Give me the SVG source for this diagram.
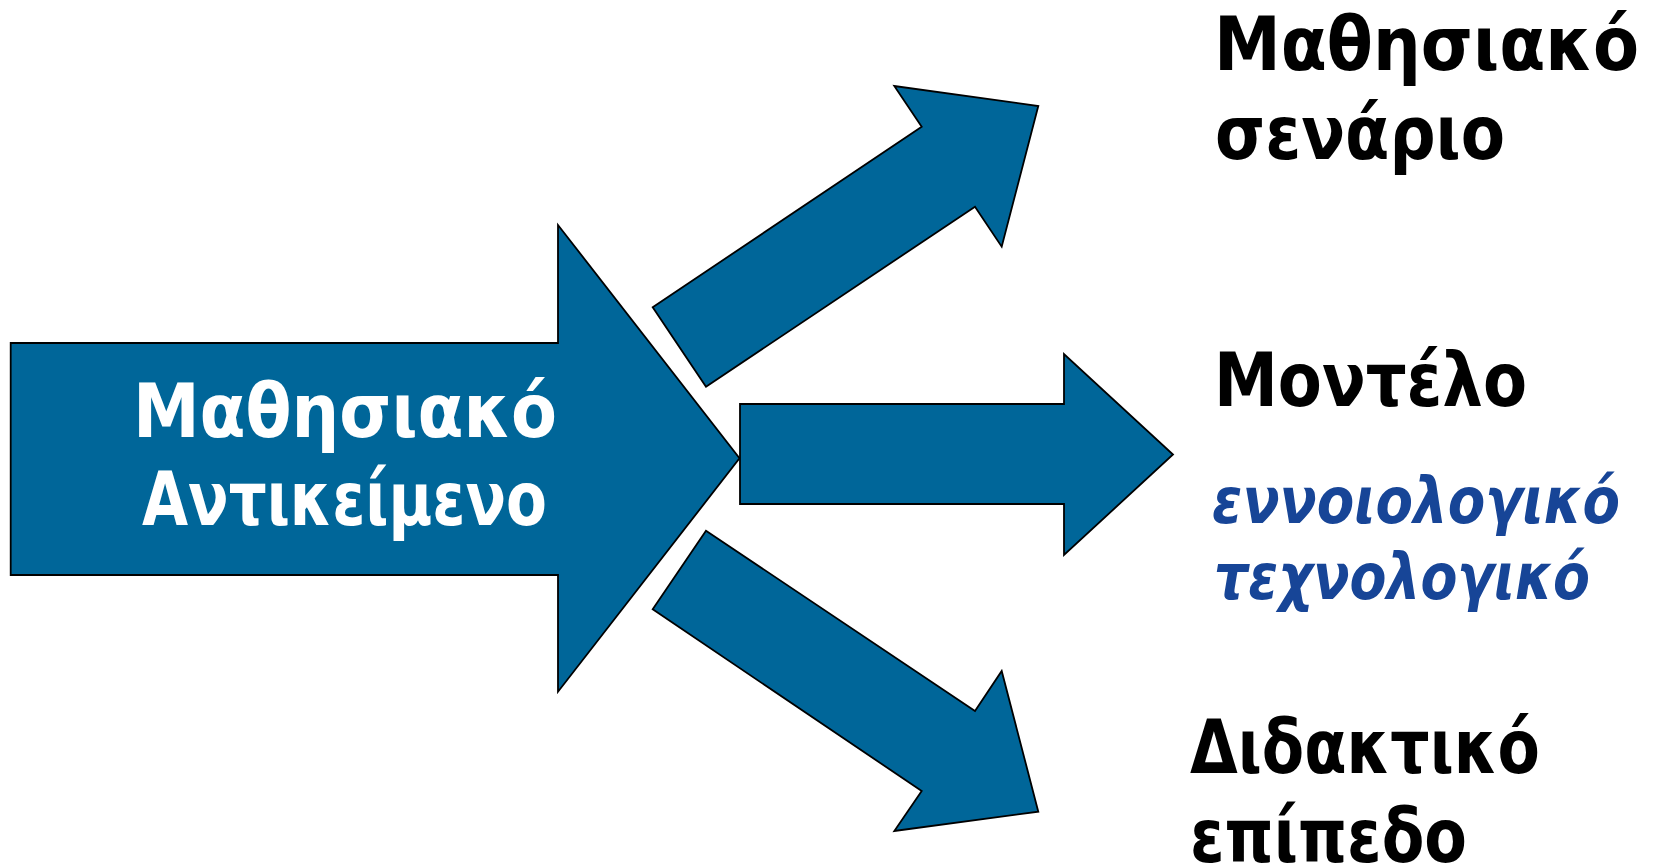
<svg xmlns="http://www.w3.org/2000/svg" width="1654" height="867" viewBox="0 0 1654 867">
<style>
.arrow{fill:#006699;stroke:#000;stroke-width:1.8;stroke-linejoin:miter}
.t{font-family:"DejaVu Sans Condensed","DejaVu Sans","Liberation Sans",sans-serif;font-weight:bold;font-size:75px}
.w{fill:#fff}
.k{fill:#000}
.b{fill:#174597;font-style:italic;font-size:64px}
</style>
<rect width="1654" height="867" fill="#fff"/>
<g id="source">
<polygon class="arrow" points="10.7,343 558,343 558,225 739.5,458.3 558,691.7 558,575 10.7,575"/>
<text class="t w" x="133" y="437" textLength="424" lengthAdjust="spacingAndGlyphs">Μαθησιακό</text>
<text class="t w" x="142" y="525" textLength="405" lengthAdjust="spacingAndGlyphs">Αντικείμενο</text>
</g>
<g id="connectors">
<polygon id="arrow-up" class="arrow" points="652.7,307.3 921.7,126.7 894.3,86 1038.3,106 1001.7,246.7 975,206.7 706,386.7"/>
<polygon id="arrow-mid" class="arrow" points="740,404 1064,404 1064,354 1173,454.5 1064,555 1064,504 740,504"/>
<polygon id="arrow-down" class="arrow" points="706,530.7 975,711 1001.7,671 1038.3,811.7 894.3,831 921.7,791 652.7,609.3"/>
</g>
<g id="scenario">
<text class="t k" x="1214" y="70" textLength="425" lengthAdjust="spacingAndGlyphs">Μαθησιακό</text>
<text class="t k" x="1215" y="159" textLength="290" lengthAdjust="spacingAndGlyphs">σενάριο</text>
</g>
<g id="model">
<text class="t k" x="1214" y="406" textLength="313" lengthAdjust="spacingAndGlyphs">Μοντέλο</text>
<text class="t b" x="1212" y="523" textLength="408" lengthAdjust="spacingAndGlyphs">εννοιολογικό</text>
<text class="t b" x="1214" y="599" textLength="376" lengthAdjust="spacingAndGlyphs">τεχνολογικό</text>
</g>
<g id="didactic">
<text class="t k" x="1190" y="773" textLength="350" lengthAdjust="spacingAndGlyphs">Διδακτικό</text>
<text class="t k" x="1190" y="862" textLength="277" lengthAdjust="spacingAndGlyphs">επίπεδο</text>
</g>
</svg>
